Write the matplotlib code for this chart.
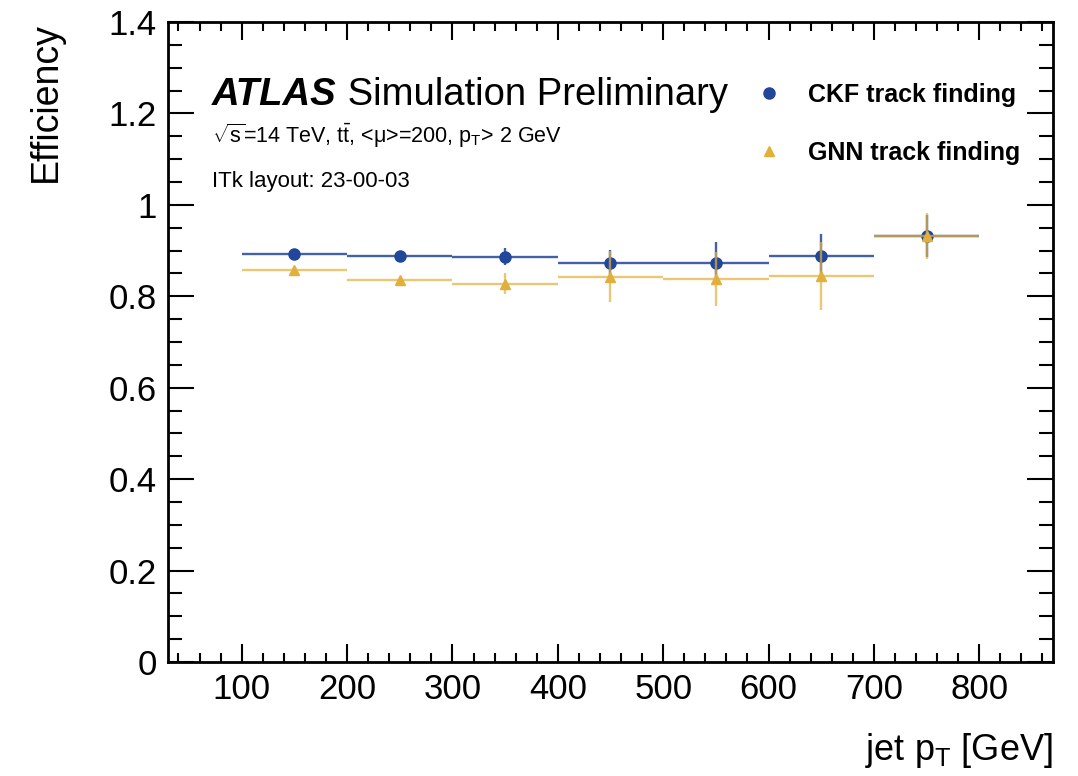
import numpy as np
import matplotlib.pyplot as plt
from matplotlib.lines import Line2D
from matplotlib.ticker import MultipleLocator, FormatStrFormatter

plt.rcParams['font.family'] = ['Liberation Sans', 'DejaVu Sans']
plt.rcParams['mathtext.fontset'] = 'custom'
plt.rcParams['mathtext.rm'] = 'Liberation Sans'
plt.rcParams['mathtext.it'] = 'Liberation Sans:italic'

# --- dados ---
bin_lo = np.array([100, 200, 300, 400, 500, 600, 700])
bin_hi = np.array([200, 300, 400, 500, 600, 700, 800])
ckf_eff = np.array([0.892, 0.889, 0.887, 0.872, 0.872, 0.889, 0.932])
ckf_err = np.array([0.004, 0.005, 0.018, 0.030, 0.046, 0.047, 0.045])
gnn_eff = np.array([0.858, 0.836, 0.828, 0.843, 0.838, 0.844, 0.932])
gnn_err = np.array([0.005, 0.006, 0.023, 0.056, 0.060, 0.074, 0.050])

x_c = 0.5 * (bin_lo + bin_hi)
x_w = 0.5 * (bin_hi - bin_lo)

azul = '#22469a'
amarelo = '#e2b03a'

fig = plt.figure(figsize=(10.78, 7.76), dpi=100)
ax = fig.add_axes([0.1558, 0.1469, 0.821, 0.8247])

ax.errorbar(x_c, ckf_eff, xerr=x_w, yerr=ckf_err, fmt='o', color=azul,
            ms=8, elinewidth=1.7, ecolor=(0.13, 0.27, 0.60, 0.85), capsize=0, zorder=3)
ax.errorbar(x_c, gnn_eff, xerr=x_w, yerr=gnn_err, fmt='^', color=amarelo,
            ms=7.5, elinewidth=1.7, ecolor=(0.89, 0.69, 0.23, 0.7), capsize=0, zorder=4)

ax.set_xlim(30, 870)
ax.set_ylim(0, 1.4)
ax.xaxis.set_major_locator(MultipleLocator(100))
ax.xaxis.set_minor_locator(MultipleLocator(20))
ax.yaxis.set_major_locator(MultipleLocator(0.2))
ax.yaxis.set_minor_locator(MultipleLocator(0.05))
ax.yaxis.set_major_formatter(FormatStrFormatter('%g'))

for s in ax.spines.values():
    s.set_linewidth(2)
ax.tick_params(which='both', direction='in', top=True, right=True, width=1.5,
               labelsize=25, pad=8)
ax.tick_params(axis='x', which='major', length=13)
ax.tick_params(axis='x', which='minor', length=6.5)
ax.tick_params(axis='y', which='major', length=19)
ax.tick_params(axis='y', which='minor', length=10)

ax.set_ylabel('Efficiency', fontsize=27, loc='top', labelpad=32)
ax.set_xlabel('jet p$_\\mathregular{T}$ [GeV]', fontsize=26, loc='right', labelpad=18)

t = ax.text(0.05, 0.87, 'ATLAS', transform=ax.transAxes, fontsize=27.5,
            fontweight='bold', fontstyle='italic', va='baseline')
ax.annotate(' Simulation Preliminary', xycoords=t, xy=(1, 0), fontsize=27.5,
            va='bottom')
ax.text(0.05, 0.811, '$\\sqrt{\\mathregular{s}}$=14 TeV, t$\\bar{\\mathregular{t}}$, <μ>=200, p$_\\mathregular{T}$> 2 GeV',
        transform=ax.transAxes, fontsize=15.5, va='baseline')
ax.text(0.05, 0.742, 'ITk layout: 23-00-03', transform=ax.transAxes,
        fontsize=16, va='baseline')

handles = [Line2D([], [], ls='none', marker='o', color=azul, ms=8),
           Line2D([], [], ls='none', marker='^', color=amarelo, ms=7.5)]
ax.legend(handles, ['CKF track finding', 'GNN track finding'], frameon=False,
          loc='upper left', bbox_to_anchor=(0.626, 0.94),
          prop={'weight': 'bold', 'size': 18}, labelspacing=1.35,
          handletextpad=0.55)

fig.savefig('out.png', dpi=100)
